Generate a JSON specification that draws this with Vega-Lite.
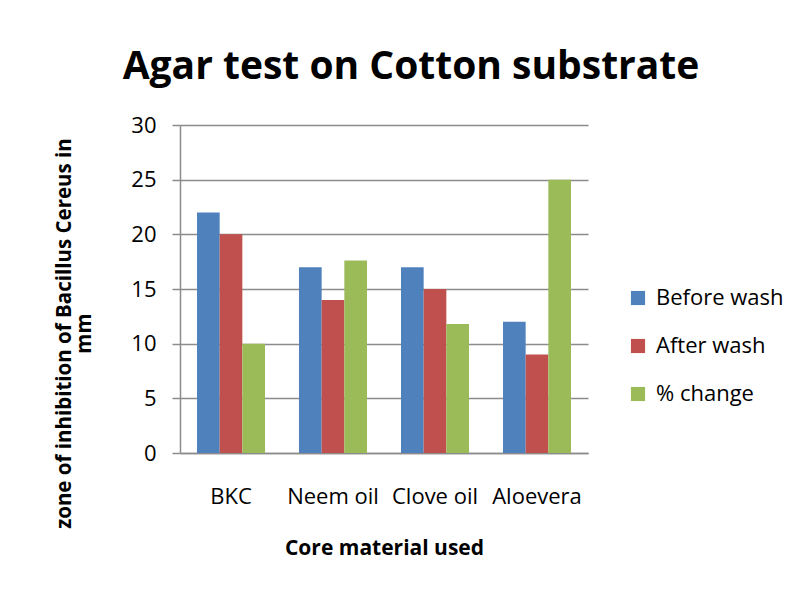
{
  "$schema": "https://vega.github.io/schema/vega-lite/v6.json",
  "autosize": {"type": "none"},
  "width": 408,
  "height": 328,
  "padding": {"left": 180, "top": 125, "right": 215, "bottom": 137},
  "background": "white",
  "title": {
    "text": "Agar test on Cotton substrate",
    "font": "Open Sans",
    "fontSize": 39,
    "fontWeight": "bold",
    "color": "black",
    "anchor": "middle",
    "baseline": "alphabetic",
    "offset": -4,
    "dx": 27
  },
  "data": {
    "values": [
      {"material": "BKC", "series": "Before wash", "value": 22},
      {"material": "BKC", "series": "After wash", "value": 20},
      {"material": "BKC", "series": "% change", "value": 10},
      {"material": "Neem oil", "series": "Before wash", "value": 17},
      {"material": "Neem oil", "series": "After wash", "value": 14},
      {"material": "Neem oil", "series": "% change", "value": 17.6},
      {"material": "Clove oil", "series": "Before wash", "value": 17},
      {"material": "Clove oil", "series": "After wash", "value": 15},
      {"material": "Clove oil", "series": "% change", "value": 11.8},
      {"material": "Aloevera", "series": "Before wash", "value": 12},
      {"material": "Aloevera", "series": "After wash", "value": 9},
      {"material": "Aloevera", "series": "% change", "value": 25}
    ]
  },
  "mark": {"type": "bar"},
  "encoding": {
    "x": {
      "field": "material",
      "type": "nominal",
      "sort": ["BKC", "Neem oil", "Clove oil", "Aloevera"],
      "scale": {"paddingInner": 0.3333, "paddingOuter": 0.1667},
      "axis": {
        "title": "Core material used",
        "titleFont": "Open Sans",
        "titleFontSize": 21,
        "titleFontWeight": "bold",
        "titleColor": "black",
        "titlePadding": 30,
        "labelFont": "Open Sans",
        "labelFontSize": 22,
        "labelColor": "black",
        "labelAngle": 0,
        "labelPadding": 33,
        "ticks": false,
        "domain": true,
        "domainColor": "#8c8c8c",
        "domainWidth": 1.5,
        "grid": false
      }
    },
    "xOffset": {
      "field": "series",
      "type": "nominal",
      "sort": ["Before wash", "After wash", "% change"],
      "scale": {"paddingInner": 0, "paddingOuter": 0}
    },
    "y": {
      "field": "value",
      "type": "quantitative",
      "scale": {"domain": [0, 30]},
      "axis": {
        "values": [0, 5, 10, 15, 20, 25, 30],
        "title": ["zone of inhibition of Bacillus Cereus  in", "mm"],
        "titleFont": "Open Sans",
        "titleFontSize": 20.5,
        "titleFontWeight": "bold",
        "titleColor": "black",
        "titleAngle": 270,
        "titleAlign": "center",
        "titleBaseline": "alphabetic",
        "titleLineHeight": 20,
        "titleX": -110,
        "titleY": 208,
        "labelFont": "Open Sans",
        "labelFontSize": 22,
        "labelColor": "black",
        "labelPadding": 16,
        "tickSize": 8,
        "tickColor": "#8c8c8c",
        "tickWidth": 1.5,
        "domainColor": "#8c8c8c",
        "domainWidth": 1.5,
        "grid": true,
        "gridColor": "#8c8c8c",
        "gridWidth": 1.5
      }
    },
    "color": {
      "field": "series",
      "type": "nominal",
      "sort": ["Before wash", "After wash", "% change"],
      "scale": {
        "domain": ["Before wash", "After wash", "% change"],
        "range": ["#4F81BD", "#C0504D", "#9BBB59"]
      },
      "legend": {
        "title": null,
        "orient": "none",
        "legendX": 447,
        "legendY": 162,
        "symbolType": "square",
        "symbolSize": 200,
        "symbolStrokeWidth": 0,
        "labelFont": "Open Sans",
        "labelFontSize": 22,
        "labelColor": "black",
        "labelOffset": 7,
        "rowPadding": 26
      }
    }
  },
  "config": {
    "view": {"stroke": null},
    "axis": {"gridCap": "butt"}
  }
}
